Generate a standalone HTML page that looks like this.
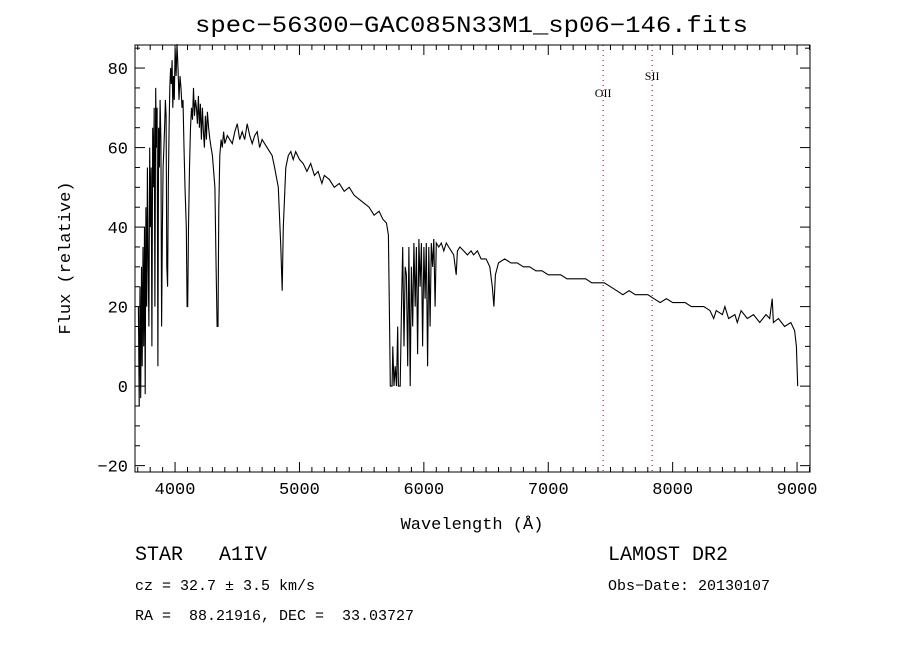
<!DOCTYPE html>
<html><head><meta charset="utf-8"><style>
body{margin:0;background:#fff}
svg text{font-family:"Liberation Serif",serif;fill:#000}
.m{font-family:"Liberation Mono",monospace}
</style></head><body>
<svg id="c" width="900" height="650" xmlns="http://www.w3.org/2000/svg">
<rect width="900" height="650" fill="#fff"/>
<text x="195" y="32" font-size="23" textLength="553" lengthAdjust="spacingAndGlyphs" class="m">spec−56300−GAC085N33M1_sp06−146.fits</text>
<text x="0" y="0" font-size="17" text-anchor="middle" transform="translate(70,258) rotate(-90)" class="m">Flux (relative)</text>
<text x="472" y="529" font-size="17" text-anchor="middle" class="m">Wavelength (Å)</text>
<text x="135" y="560" font-size="20" class="m" xml:space="preserve">STAR   A1IV</text>
<text x="608" y="560" font-size="20" class="m">LAMOST DR2</text>
<text x="135" y="590" font-size="15" class="m">cz = 32.7 ± 3.5 km/s</text>
<text x="608" y="590" font-size="15" class="m">Obs−Date: 20130107</text>
<text x="135" y="620" font-size="15" class="m" xml:space="preserve">RA =  88.21916, DEC =  33.03727</text>
<g id="ax"></g>
</svg>
<script>
const xTicks=[4000,5000,6000,7000,8000,9000];
const yTicks=[-20,0,20,40,60,80];
const lineNames=["OII","SII"];
const lineWaves=[7441,7835];
const wave=[3705,3712,3718,3724,3730,3736,3742,3748,3754,3760,3766,3772,3778,3784,3790,3796,3802,3808,3814,3820,3826,3832,3838,3844,3850,3856,3862,3868,3874,3880,3886,3892,3898,3904,3910,3916,3922,3928,3934,3940,3946,3952,3958,3964,3970,3976,3982,3988,3994,4000,4008,4016,4024,4032,4040,4048,4056,4064,4072,4080,4090,4097,4102,4108,4116,4124,4132,4140,4148,4156,4164,4172,4180,4188,4196,4204,4212,4220,4228,4236,4244,4252,4260,4270,4280,4290,4300,4320,4330,4338,4345,4352,4360,4370,4380,4390,4400,4420,4440,4460,4480,4500,4520,4540,4560,4580,4600,4620,4640,4660,4680,4700,4720,4740,4760,4780,4800,4830,4850,4861,4870,4890,4910,4930,4950,4970,5000,5030,5060,5090,5120,5150,5180,5200,5240,5280,5320,5360,5400,5440,5480,5520,5560,5600,5640,5670,5700,5715,5725,5730,5745,5750,5760,5770,5780,5790,5795,5810,5820,5830,5840,5850,5860,5870,5880,5890,5900,5910,5920,5930,5940,5950,5960,5970,5980,5990,6000,6010,6020,6030,6040,6050,6060,6070,6080,6090,6100,6120,6140,6160,6180,6200,6220,6240,6260,6270,6290,6320,6350,6380,6400,6430,6460,6500,6530,6550,6563,6575,6600,6650,6700,6750,6800,6850,6900,6950,7000,7050,7100,7150,7200,7250,7300,7350,7400,7450,7500,7550,7600,7650,7700,7750,7800,7850,7900,7950,8000,8050,8100,8150,8200,8250,8300,8330,8350,8400,8420,8450,8500,8520,8550,8600,8650,8700,8750,8780,8800,8810,8850,8900,8950,8980,8995,9005];
const flux=[20,-5,25,-3,30,5,35,10,40,-2,45,20,55,30,15,60,40,55,10,65,50,70,20,75,60,70,5,65,55,72,62,15,40,55,60,65,72,68,30,25,50,65,75,80,76,82,70,78,72,85,78,86,80,72,78,75,70,72,60,50,40,20,20,40,55,65,70,67,75,68,72,70,66,73,65,71,62,70,64,60,68,62,69,65,62,60,58,50,30,15,15,45,58,62,60,64,61,63,62,61,64,66,62,64,62,66,63,61,63,64,60,62,61,60,59,58,55,50,35,24,40,55,58,59,57,59,57,56,54,56,53,54,51,53,52,50,51,49,50,48,47,46,45,43,44,42,41,38,15,0,0,10,0,5,0,15,0,0,20,35,10,30,28,5,35,0,30,15,36,20,35,8,37,25,36,10,35,22,36,5,35,15,36,30,37,20,36,35,36,34,36,35,34,33,28,34,35,34,33,34,33,34,32,32,30,25,20,28,31,32,31,31,30,30,29,29,28,28,28,27,27,27,27,26,26,26,25,24,23,24,23,23,23,22,21,22,21,21,21,20,20,20,19,17,19,18,20,17,18,16,19,17,18,16,18,17,22,16,17,15,16,14,10,0];
const X0=3678,X1=9104,Y0=-21.6,Y1=85.8,L=135,R=810,T=45,B=472;
const sx=w=>L+(w-X0)/(X1-X0)*(R-L);
const sy=f=>B-(f-Y0)/(Y1-Y0)*(B-T);
const NS="http://www.w3.org/2000/svg",g=document.getElementById('ax');
function mk(t,a){const e=document.createElementNS(NS,t);for(const k in a)e.setAttribute(k,a[k]);g.appendChild(e);return e;}
let d="";wave.forEach((w,i)=>{d+=(i?"L":"M")+sx(w).toFixed(1)+","+sy(flux[i]).toFixed(1);});
const p=mk('path',{d:d,fill:'none',stroke:'#000','stroke-width':1.1});


lineWaves.forEach((w,i)=>{
 const l=mk('line',{x1:sx(w),x2:sx(w),y1:T,y2:B,stroke:'#800',"stroke-dasharray":"1,4"});
 
 
 const t=mk('text',{x:sx(w),y:i?80:97,"font-size":12,"text-anchor":"middle"});t.textContent=lineNames[i];
 
 
});
const fr=mk('rect',{x:L,y:T,width:R-L,height:B-T,fill:'none',stroke:'#000','stroke-width':1});


for(let w=3700;w<=9100;w+=100){const x=sx(w),mj=w%1000==0,len=mj?10:5;
 mk('line',{x1:x,x2:x,y1:B,y2:B-len,stroke:'#000'});mk('line',{x1:x,x2:x,y1:T,y2:T+len,stroke:'#000'});}
xTicks.forEach(v=>{const t=mk('text',{x:sx(v),y:B+22,"font-size":17,"text-anchor":"middle",class:"m"});t.textContent=v;
 
 });
for(let f=-20;f<=85;f+=5){const y=sy(f),mj=f%20==0,len=mj?10:5;
 mk('line',{x1:L,x2:L+len,y1:y,y2:y,stroke:'#000'});mk('line',{x1:R,x2:R-len,y1:y,y2:y,stroke:'#000'});}
yTicks.forEach(v=>{const t=mk('text',{x:L-7,y:sy(v)+6,"font-size":17,"text-anchor":"end",class:"m"});t.textContent=v<0?"−"+(-v):v;
 
 });
</script>
</body></html>
